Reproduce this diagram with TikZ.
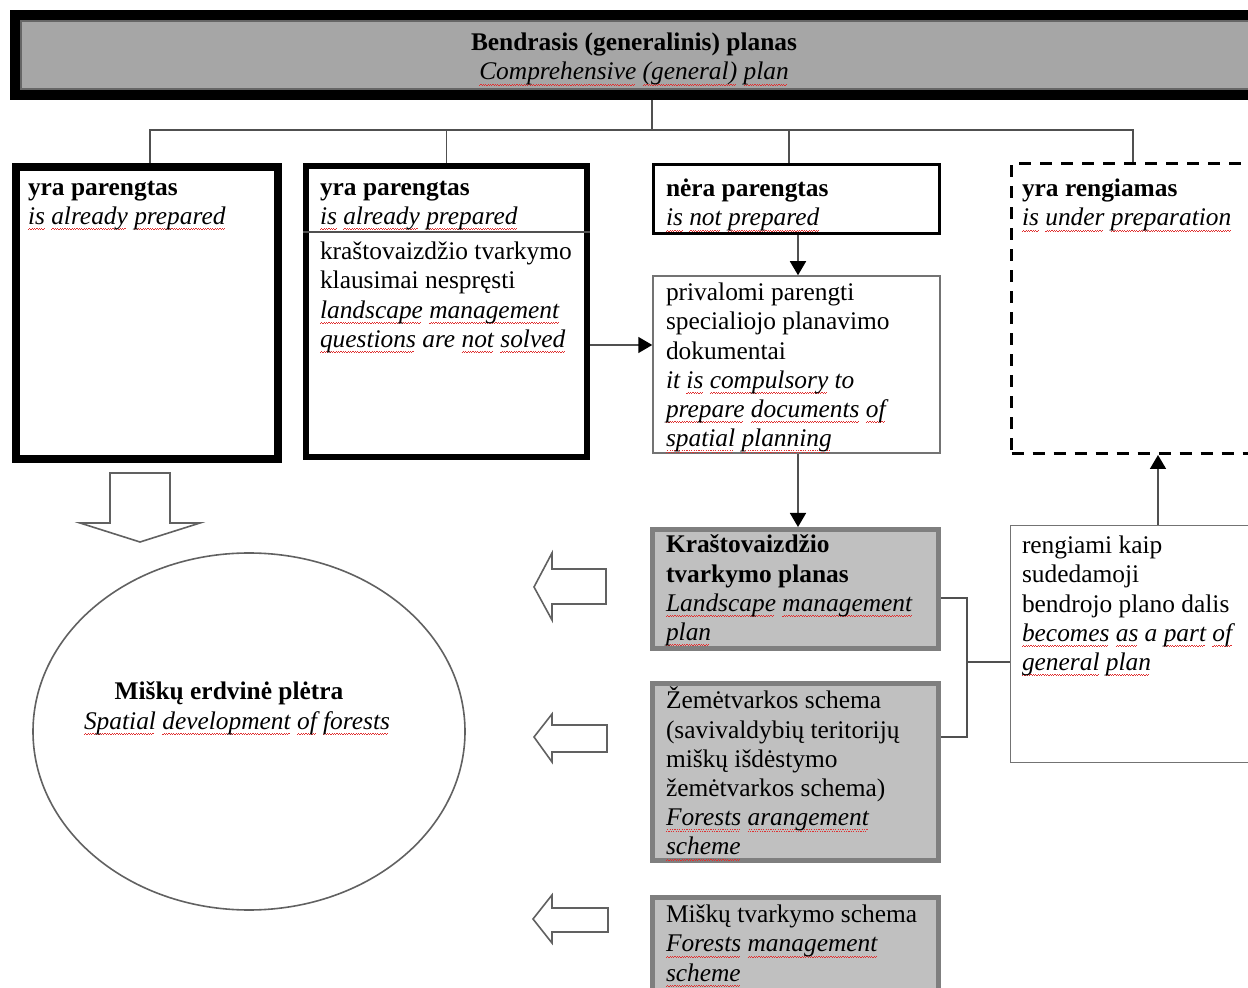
\documentclass[tikz,border=0pt]{standalone}
\usepackage{fontspec}
\setmainfont{Liberation Serif}
\usetikzlibrary{arrows.meta,fit,shapes.geometric}
\definecolor{topgray}{HTML}{A6A6A6}
\definecolor{boxgray}{HTML}{C0C0C0}
\definecolor{edgegray}{HTML}{7F7F7F}
\definecolor{linegray}{HTML}{505050}
\definecolor{sqred}{HTML}{E03030}
\newcommand\sq[1]{\setbox0\hbox{#1}\leavevmode\rlap{\textcolor{sqred}{\lower2.8pt\hbox to\wd0{\leaders\hbox{\vrule width0.6pt height0.35pt depth0pt\raise0.6pt\hbox{\vrule width0.6pt height0.35pt depth0pt}}\hfill}}}\box0\relax}
\newcommand\toprule{\rule{0pt}{12pt}}
\tikzset{
  txt/.style={inner sep=0, outer sep=0, align=left, anchor=north west,
    font=\fontsize{12.7}{14.6}\selectfont, execute at begin node=\toprule},
  ctxt/.style={inner sep=0, outer sep=0, align=center,
    font=\fontsize{12.7}{14.6}\selectfont},
  frame/.style={draw, inner sep=0, fill=white},
  graybox/.style={draw=edgegray, line width=2.5pt, fill=boxgray, inner sep=0},
  thinbox/.style={draw=linegray!80, line width=0.75pt, fill=white, inner sep=0},
  conn/.style={draw=linegray, line width=0.8pt},
  arr/.style={conn, -{Triangle[width=8pt,length=7pt,color=black]}},
  blockarrow/.style={draw=linegray!90, line width=0.8pt, fill=white, line join=miter},
}
\begin{document}
\begin{tikzpicture}[x=0.5pt,y=-0.5pt]
\path[use as bounding box] (0,0) rectangle (1248,988);
\clip (0,0) rectangle (1248,988);

% top box
\node[draw=black, line width=5pt, fill=topgray, inner sep=0, fit={(15,15)(1275,95)}] (top) {};
\node[draw=black!60, line width=0.6pt, inner sep=0, fit={(21,21)(1275,89)}] (topin) {};
\node[ctxt, anchor=north, execute at begin node=\toprule] (toptxt) at (634,33)
  {\textbf{Bendrasis (generalinis) planas}\\
   \textit{\sq{Comprehensive} \sq{(general)} \sq{plan}}};

% level boxes
\node[frame, line width=4pt, fit={(16,167)(278,459)}] (b1) {};
\node[frame, line width=3pt, fit={(306,166)(587,457)}] (b2) {};
\node[frame, line width=1.5pt, fit={(653.5,164.5)(939.5,233.5)}] (b3) {};
\node[frame, line width=1.5pt, dash pattern=on 6pt off 4.5pt, fit={(1011.5,163.5)(1275,453.5)}] (b4) {};
\node[thinbox, fit={(653,276)(940,453)}] (b5) {};
\node[graybox, fit={(652.5,529.5)(938.5,648.5)}] (b6) {};
\node[thinbox, fit={(1010.5,525.5)(1275,762.5)}] (b7) {};
\node[graybox, fit={(652.5,683.5)(938.5,860.5)}] (b8) {};
\node[graybox, fit={(652.5,897.5)(938.5,1010)}] (b9) {};

% separator in b2
\draw[draw=linegray, line width=1pt] (b2.west |- 0,232) -- (b2.east |- 0,232);

% texts
\node[txt] (t1) at (28,181) {\textbf{yra parengtas}\\ \textit{\sq{is} \sq{already} \sq{prepared}}};
\node[txt] (t2) at (320,181) {\textbf{yra parengtas}\\ \textit{\sq{is} \sq{already} \sq{prepared}}};
\node[txt] (t2b) at (320,242) {kraštovaizdžio tvarkymo\\ klausimai nespręsti\\
  \textit{\sq{landscape} \sq{management}}\\ \textit{\sq{questions} are \sq{not} \sq{solved}}};
\node[txt] (t3) at (666,179) {\textbf{nėra parengtas}\\ \textit{\sq{is} \sq{not} \sq{prepared}}};
\node[txt] (t4) at (1022,179) {\textbf{yra rengiamas}\\ \textit{\sq{is} \sq{under} \sq{preparation}}};
\node[txt] (t5) at (666,283) {privalomi parengti\\ specialiojo planavimo\\ dokumentai\\
  \textit{it \sq{is} \sq{compulsory} to}\\ \textit{\sq{prepare} \sq{documents} \sq{of}}\\
  \textit{\sq{spatial} \sq{planning}}};
\node[txt] (t6) at (666,535) {\textbf{Kraštovaizdžio}\\ \textbf{tvarkymo planas}\\
  \textit{\sq{Landscape} \sq{management}}\\ \textit{\sq{plan}}};
\node[txt] (t7) at (1022,536) {rengiami kaip\\ sudedamoji\\ bendrojo plano dalis\\
  \textit{\sq{becomes} \sq{as} a \sq{part} \sq{of}}\\ \textit{\sq{general} \sq{plan}}};
\node[txt] (t8) at (666,687) {Žemėtvarkos schema\\ (savivaldybių teritorijų\\ miškų išdėstymo\\
  žemėtvarkos schema)\\ \textit{\sq{Forests} \sq{arangement}}\\ \textit{\sq{scheme}}};
\node[txt] (t9) at (666,905) {Miškų tvarkymo schema\\ \textit{\sq{Forests} \sq{management}}\\ \textit{\sq{scheme}}};

% ellipse
\node[ellipse, draw=linegray!90, line width=0.8pt, minimum width=216pt, minimum height=178.5pt, inner sep=0] (ell) at (249,731.5) {};
\node[ctxt, anchor=base] (e1) at (229,699) {\textbf{Miškų erdvinė plėtra}};
\node[ctxt, anchor=base] (e2) at (237,729) {\textit{\sq{Spatial} \sq{development} \sq{of} \sq{forests}}};

% tree connectors
\coordinate (hub) at (652,130);
\draw[conn] (top.south -| hub) -- (hub);
\draw[conn] (b1.north -| 150,0) |- (hub);
\draw[conn] (b2.north) |- (hub);
\draw[conn] (b3.north -| 789,0) |- (hub);
\draw[conn] (b4.north -| 1133,0) |- (hub);

% arrows
\draw[arr] (b2.east |- 0,345) -- (b5.west |- 0,345);
\draw[arr] (b3.south -| 798,0) -- (b5.north -| 798,0);
\draw[arr] (b5.south -| 798,0) -- (b6.north -| 798,0);
\draw[arr] (b7.north -| 1158,0) -- (b4.south -| 1158,0);

% bracket
\coordinate (br) at (967,662);
\draw[conn] (b6.east |- 0,598) -| (br) |- (b8.east |- 0,737);
\draw[conn] (br) -- (b7.west |- br);

% block arrows
\draw[blockarrow] (110,473) -- (170,473) -- (170,523) -- (200,523) -- (140,542) -- (80,523) -- (110,523) -- cycle;
\draw[blockarrow] (606,569) -- (552,569) -- (552,553) -- (534,587) -- (552,620) -- (552,604) -- (606,604) -- cycle;
\draw[blockarrow] (607,725) -- (552,725) -- (552,714) -- (534,737) -- (552,762) -- (552,752) -- (607,752) -- cycle;
\draw[blockarrow] (608,908) -- (552,908) -- (552,895) -- (533,919) -- (552,943) -- (552,932) -- (608,932) -- cycle;
\end{tikzpicture}
\end{document}
